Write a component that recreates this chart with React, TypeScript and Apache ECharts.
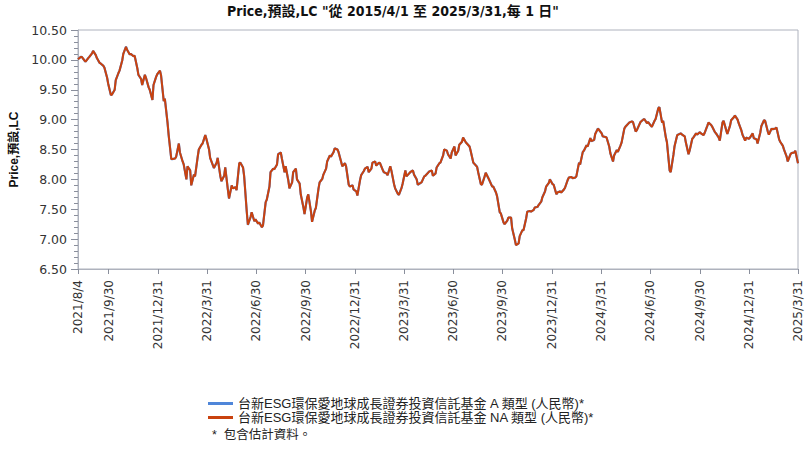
import React, { useEffect, useRef } from "react";
import * as echarts from "echarts";

const titleText = 'Price,預設,LC "從 2015/4/1 至 2025/3/31,每 1 日"';
const yAxisName = "Price,預設,LC";
const seriesNames = [
  "台新ESG環保愛地球成長證券投資信託基金 A 類型 (人民幣)*",
  "台新ESG環保愛地球成長證券投資信託基金 NA 類型 (人民幣)*",
];
const footnote = "*  包含估計資料。";

const tickLabels = [
  "2021/8/4", "2021/9/30", "2021/12/31", "2022/3/31", "2022/6/30", "2022/9/30",
  "2022/12/31", "2023/3/31", "2023/6/30", "2023/9/30", "2023/12/31", "2024/3/31",
  "2024/6/30", "2024/9/30", "2024/12/31", "2025/3/31",
];

// Wednesday readings
const wedDates1 = ["2021-08-04","2021-08-11","2021-08-18","2021-08-25","2021-09-01","2021-09-08","2021-09-15","2021-09-22","2021-09-29","2021-10-06","2021-10-13","2021-10-20","2021-10-27","2021-11-03","2021-11-10","2021-11-17","2021-11-24","2021-12-01","2021-12-08","2021-12-15","2021-12-22","2021-12-29"];
const wedValues1 = [10.01,10.05,9.97,10.05,10.15,10.03,9.94,9.87,9.60,9.42,9.66,9.82,10.10,10.17,10.10,10.07,9.75,9.58,9.70,9.50,9.58,9.76];

const wedDates2 = ["2022-01-05","2022-01-12","2022-01-19","2022-01-26","2022-02-02","2022-02-09","2022-02-16","2022-02-23","2022-03-02","2022-03-09","2022-03-16","2022-03-23","2022-03-30","2022-04-06","2022-04-13","2022-04-20","2022-04-27","2022-05-04","2022-05-11","2022-05-18","2022-05-25","2022-06-01","2022-06-08","2022-06-15","2022-06-22","2022-06-29","2022-07-06","2022-07-13","2022-07-20","2022-07-27","2022-08-03","2022-08-10","2022-08-17","2022-08-24","2022-08-31","2022-09-07","2022-09-14","2022-09-21","2022-09-28","2022-10-05","2022-10-12","2022-10-19","2022-10-26","2022-11-02","2022-11-09","2022-11-16","2022-11-23","2022-11-30","2022-12-07","2022-12-14","2022-12-21","2022-12-28"];
const wedValues2 = [9.74,9.35,8.75,8.34,8.38,8.45,8.25,8.22,7.90,8.05,8.50,8.60,8.68,8.36,8.19,8.36,7.97,8.20,7.68,7.85,7.82,8.28,8.06,7.24,7.45,7.33,7.28,7.23,7.66,8.12,8.17,8.42,8.35,8.22,7.85,8.12,8.00,7.75,7.42,7.75,7.29,7.52,7.95,8.08,8.30,8.38,8.52,8.46,8.22,8.22,7.88,7.83];

const wedDates3 = ["2023-01-04","2023-01-11","2023-01-18","2023-01-25","2023-02-01","2023-02-08","2023-02-15","2023-02-22","2023-03-01","2023-03-08","2023-03-15","2023-03-22","2023-03-29","2023-04-05","2023-04-12","2023-04-19","2023-04-26","2023-05-03","2023-05-10","2023-05-17","2023-05-24","2023-05-31","2023-06-07","2023-06-14","2023-06-21","2023-06-28","2023-07-05","2023-07-12","2023-07-19","2023-07-26","2023-08-02","2023-08-09","2023-08-16","2023-08-23","2023-08-30","2023-09-06","2023-09-13","2023-09-20","2023-09-27","2023-10-04","2023-10-11","2023-10-18","2023-10-25","2023-11-01","2023-11-08","2023-11-15","2023-11-22","2023-11-29","2023-12-06","2023-12-13","2023-12-20","2023-12-27"];
const wedValues3 = [7.73,8.07,8.18,8.12,8.28,8.23,8.27,8.12,8.07,8.15,7.85,7.74,7.93,8.05,8.12,8.08,7.91,7.95,8.06,8.13,8.06,8.20,8.28,8.50,8.42,8.45,8.40,8.58,8.70,8.60,8.48,8.26,8.12,7.91,8.11,7.98,7.88,7.72,7.43,7.25,7.36,7.18,6.90,7.05,7.15,7.46,7.46,7.53,7.57,7.70,7.88,8.00];

const wedDates4 = ["2024-01-03","2024-01-10","2024-01-17","2024-01-24","2024-01-31","2024-02-07","2024-02-14","2024-02-21","2024-02-28","2024-03-06","2024-03-13","2024-03-20","2024-03-27","2024-04-03","2024-04-10","2024-04-17","2024-04-24","2024-05-01","2024-05-08","2024-05-15","2024-05-22","2024-05-29","2024-06-05","2024-06-12","2024-06-19","2024-06-26","2024-07-03","2024-07-10","2024-07-17","2024-07-24","2024-07-31","2024-08-07","2024-08-14","2024-08-21","2024-08-28","2024-09-04","2024-09-11","2024-09-18","2024-09-25","2024-10-02","2024-10-09","2024-10-16","2024-10-23","2024-10-30","2024-11-06","2024-11-13","2024-11-20","2024-11-27","2024-12-04","2024-12-11","2024-12-18","2024-12-25"];
const wedValues4 = [7.91,7.78,7.78,7.86,8.03,8.02,8.05,8.25,8.48,8.55,8.64,8.76,8.83,8.72,8.70,8.44,8.40,8.46,8.62,8.88,8.95,8.96,8.82,8.96,9.01,8.96,8.88,9.01,9.21,8.98,8.62,8.12,8.55,8.75,8.75,8.62,8.48,8.70,8.75,8.77,8.78,8.95,8.88,8.77,8.65,8.98,8.76,8.99,9.07,8.94,8.75,8.70];

const wedDates5 = ["2025-01-01","2025-01-08","2025-01-15","2025-01-22","2025-01-29","2025-02-05","2025-02-12","2025-02-19","2025-02-26","2025-03-05","2025-03-12","2025-03-19","2025-03-26","2025-03-31"];
const wedValues5 = [8.70,8.69,8.60,8.89,8.98,8.75,8.84,8.87,8.63,8.50,8.30,8.44,8.48,8.27];

// Monday readings
const monDates1 = ["2021-08-09","2021-08-16","2021-08-23","2021-08-30","2021-09-06","2021-09-13","2021-09-20","2021-09-27","2021-10-04","2021-10-11","2021-10-18","2021-10-25","2021-11-01","2021-11-08","2021-11-15","2021-11-22","2021-11-29","2021-12-06","2021-12-13","2021-12-20","2021-12-27","2022-01-03"];
const monValues1 = [10.05,9.99,10.03,10.11,10.08,9.95,9.90,9.70,9.41,9.50,9.78,9.99,10.22,10.09,10.06,9.86,9.68,9.75,9.54,9.33,9.72,9.82];

const monDates2 = ["2022-01-10","2022-01-17","2022-01-24","2022-01-31","2022-02-07","2022-02-14","2022-02-21","2022-02-28","2022-03-07","2022-03-14","2022-03-21","2022-03-28","2022-04-04","2022-04-11","2022-04-18","2022-04-25","2022-05-02","2022-05-09","2022-05-16","2022-05-23","2022-05-30","2022-06-06","2022-06-13","2022-06-20","2022-06-27","2022-07-04","2022-07-11","2022-07-18","2022-07-25","2022-08-01","2022-08-08","2022-08-15","2022-08-22","2022-08-29","2022-09-05","2022-09-12","2022-09-19","2022-09-26","2022-10-03","2022-10-10","2022-10-17","2022-10-24","2022-10-31","2022-11-07","2022-11-14","2022-11-21","2022-11-28","2022-12-05","2022-12-12","2022-12-19","2022-12-26","2023-01-02"];
const monValues2 = [9.31,8.95,8.34,8.35,8.60,8.30,8.00,8.15,8.08,8.38,8.58,8.74,8.50,8.24,8.28,8.05,8.06,7.82,7.90,7.87,8.27,8.20,7.45,7.37,7.30,7.26,7.20,7.62,7.88,8.18,8.25,8.45,8.12,7.98,7.95,8.18,7.93,7.53,7.70,7.46,7.48,7.85,8.01,8.18,8.40,8.46,8.50,8.29,8.27,7.91,7.90,7.80];

const monDates3 = ["2023-01-09","2023-01-16","2023-01-23","2023-01-30","2023-02-06","2023-02-13","2023-02-20","2023-02-27","2023-03-06","2023-03-13","2023-03-20","2023-03-27","2023-04-03","2023-04-10","2023-04-17","2023-04-24","2023-05-01","2023-05-08","2023-05-15","2023-05-22","2023-05-29","2023-06-05","2023-06-12","2023-06-19","2023-06-26","2023-07-03","2023-07-10","2023-07-17","2023-07-24","2023-07-31","2023-08-07","2023-08-14","2023-08-21","2023-08-28","2023-09-04","2023-09-11","2023-09-18","2023-09-25","2023-10-02","2023-10-09","2023-10-16","2023-10-23","2023-10-30","2023-11-06","2023-11-13","2023-11-20","2023-11-27","2023-12-04","2023-12-11","2023-12-18","2023-12-25","2024-01-01"];
const monValues3 = [7.99,8.14,8.21,8.18,8.30,8.28,8.16,8.10,8.22,7.92,7.76,7.86,8.15,8.10,8.15,8.00,7.94,8.05,8.11,8.15,8.10,8.27,8.40,8.48,8.35,8.55,8.48,8.63,8.62,8.55,8.28,8.21,7.92,8.05,8.02,7.88,7.78,7.45,7.28,7.31,7.36,6.99,6.93,7.15,7.35,7.47,7.49,7.54,7.63,7.80,7.94,7.92];

const monDates4 = ["2024-01-08","2024-01-15","2024-01-22","2024-01-29","2024-02-05","2024-02-12","2024-02-19","2024-02-26","2024-03-04","2024-03-11","2024-03-18","2024-03-25","2024-04-01","2024-04-08","2024-04-15","2024-04-22","2024-04-29","2024-05-06","2024-05-13","2024-05-20","2024-05-27","2024-06-03","2024-06-10","2024-06-17","2024-06-24","2024-07-01","2024-07-08","2024-07-15","2024-07-22","2024-07-29","2024-08-05","2024-08-12","2024-08-19","2024-08-26","2024-09-02","2024-09-09","2024-09-16","2024-09-23","2024-09-30","2024-10-07","2024-10-14","2024-10-21","2024-10-28","2024-11-04","2024-11-11","2024-11-18","2024-11-25","2024-12-02","2024-12-09","2024-12-16","2024-12-23","2024-12-30"];
const monValues4 = [7.75,7.80,7.83,7.99,8.04,8.03,8.28,8.46,8.57,8.69,8.66,8.85,8.77,8.71,8.55,8.30,8.49,8.57,8.85,8.93,8.97,8.80,8.92,9.00,8.94,8.90,8.98,9.19,8.95,8.70,8.15,8.41,8.74,8.77,8.72,8.42,8.68,8.77,8.79,8.74,8.90,8.91,8.79,8.70,8.95,8.82,8.90,9.04,9.00,8.82,8.65,8.68];

const monDates5 = ["2025-01-06","2025-01-13","2025-01-20","2025-01-27","2025-02-03","2025-02-10","2025-02-17","2025-02-24","2025-03-03","2025-03-10","2025-03-17","2025-03-24"];
const monValues5 = [8.77,8.67,8.78,8.99,8.80,8.85,8.85,8.67,8.56,8.38,8.42,8.45];

const allDates = [
  ...wedDates1, ...wedDates2, ...wedDates3, ...wedDates4, ...wedDates5,
  ...monDates1, ...monDates2, ...monDates3, ...monDates4, ...monDates5,
];
const valuesNA = [
  ...wedValues1, ...wedValues2, ...wedValues3, ...wedValues4, ...wedValues5,
  ...monValues1, ...monValues2, ...monValues3, ...monValues4, ...monValues5,
];
const valuesA = valuesNA;

const toTime = (s: string) => {
  const [y, m, d] = s.split(/[-/]/).map(Number);
  return new Date(y, m - 1, d).getTime();
};
const fmtDate = (v: number) => {
  const d = new Date(v);
  return `${d.getFullYear()}/${d.getMonth() + 1}/${d.getDate()}`;
};
const buildSeries = (vals: number[]) =>
  allDates
    .map((d, i) => [toTime(d), vals[i]])
    .sort((a, b) => a[0] - b[0]);

const FONT = "'DejaVu Sans', 'Noto Sans CJK TC', sans-serif";
const CJK = "'Liberation Sans', 'Noto Sans CJK TC', sans-serif";
const TITLE_FONT = "'DejaVu Sans Condensed', 'Noto Sans CJK TC', sans-serif";

export default function App() {
  const ref = useRef<HTMLDivElement>(null);
  useEffect(() => {
    document.body.style.margin = "0";
    if (!ref.current) return;
    const chart = echarts.init(ref.current, undefined, { renderer: "svg" });
    const tickTimes = tickLabels.map(toTime);
    chart.setOption({
      animation: false,
      backgroundColor: "#ffffff",
      title: {
        text: titleText,
        left: 222,
        top: -1,
        textStyle: { fontFamily: TITLE_FONT, fontSize: 14, fontWeight: "bold", color: "#111" },
      },
      grid: {
        left: 78,
        right: 7,
        top: 30,
        bottom: 182,
        show: true,
        borderColor: "#aeb2bd",
        borderWidth: 1,
        backgroundColor: "transparent",
      },
      legend: {
        orient: "vertical",
        left: 203,
        top: 392,
        itemGap: 1,
        icon: "rect",
        itemWidth: 25,
        itemHeight: 3,
        textStyle: { fontFamily: CJK, fontSize: 13, color: "#222", lineHeight: 12 },
        data: seriesNames,
      },
      xAxis: {
        type: "value",
        min: tickTimes[0],
        max: tickTimes[tickTimes.length - 1],
        axisLine: { show: true, lineStyle: { color: "#aeb2bd" } },
        axisTick: { show: true, customValues: tickTimes, length: 5, lineStyle: { color: "#8a8f9c" } },
        splitLine: { show: false },
        axisLabel: {
          customValues: tickTimes,
          showMinLabel: true,
          showMaxLabel: true,
          rotate: 90,
          margin: 11,
          fontFamily: FONT,
          fontSize: 12,
          color: "#333",
          formatter: (v: number) => fmtDate(v),
        },
      },
      yAxis: {
        type: "value",
        min: 6.5,
        max: 10.5,
        interval: 0.5,
        name: yAxisName,
        nameLocation: "middle",
        nameGap: 57,
        nameTextStyle: { fontFamily: CJK, fontSize: 12, fontWeight: "bold", color: "#111" },
        axisLine: { show: true, lineStyle: { color: "#aeb2bd" } },
        axisTick: { show: true, length: 7, lineStyle: { color: "#8a8f9c" } },
        minorTick: { show: true, splitNumber: 5, length: 4, lineStyle: { color: "#8a8f9c" } },
        splitLine: { show: false },
        axisLabel: {
          margin: 11,
          fontFamily: FONT,
          fontSize: 12.5,
          color: "#333",
          formatter: (v: number) => v.toFixed(2),
        },
      },
      series: [
        {
          name: seriesNames[0],
          type: "line",
          data: buildSeries(valuesA),
          showSymbol: false,
          color: "#4f86d9",
          lineStyle: { width: 2.2, color: "#4f86d9" },
        },
        {
          name: seriesNames[1],
          type: "line",
          data: buildSeries(valuesNA),
          showSymbol: false,
          color: "#c9420f",
          lineStyle: { width: 2, color: "#c9420f" },
        },
      ],
      graphic: [
        {
          type: "text",
          left: 212,
          top: 429,
          style: { text: footnote, font: `12.5px ${CJK}`, fill: "#222" },
        },
      ],
    });
    return () => chart.dispose();
  }, []);
  return <div ref={ref} style={{ width: 805, height: 451 }} />;
}
